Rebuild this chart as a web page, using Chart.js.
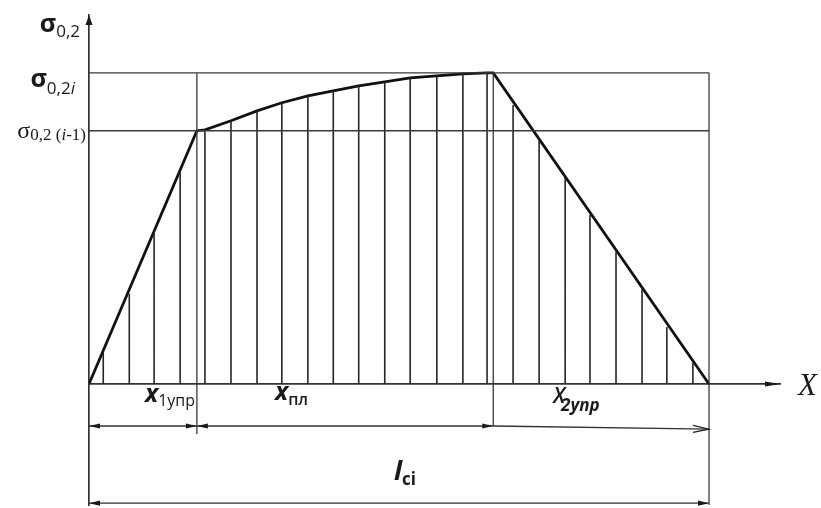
<!DOCTYPE html>
<html>
<head>
<meta charset="utf-8">
<script src="https://cdn.jsdelivr.net/npm/chart.js@4.4.1/dist/chart.umd.min.js"></script>
<style>
  html, body { margin: 0; padding: 0; background: #fff; }
  #wrap { width: 821px; height: 508px; }
</style>
</head>
<body>
<div id="wrap"><canvas id="diagram"></canvas></div>
<script>
// lengths along the specimen (lci = 100), stresses relative to sigma_0.2i
const xElasticEnd = 17.4;
const xPlasticEnd = 65.2;
const lci = 100;
const sigmaPrev = 0.814;
const sigmaI = 1.0;

// axis extents
const xAxisMax = 111.45;
const yAxisMax = 1.186;
const yAxisMin = -0.389;

// dimension line levels (below the X axis)
const dimRow1 = -0.135;
const dimRow1End = -0.145;
const dimRow2 = -0.383;
const extX1Bottom = -0.161;

// stress along the specimen
const curveX = [0, 17.4, 18.7, 22.9, 27.1, 31.1, 35.3, 39.4, 43.5, 47.7, 51.8, 56.1, 60.3, 64.2, 65.2, 100];
const curveY = [0, 0.814, 0.817, 0.846, 0.878, 0.904, 0.926, 0.942, 0.958, 0.971, 0.984, 0.990, 0.997, 1.0, 1.0, 0];

// hatching under the curve
const hatchX = [2.3, 6.5, 10.5, 14.7,
  18.7, 22.9, 27.1, 31.1, 35.3, 39.4, 43.5, 47.7, 51.8, 56.1, 60.3, 64.2,
  68.4, 72.6, 76.8, 80.8, 85.0, 89.2, 93.2, 97.4];
const hatchY = [0.10, 0.29, 0.49, 0.68,
  0.817, 0.846, 0.878, 0.904, 0.926, 0.942, 0.958, 0.971, 0.984, 0.990, 0.997, 1.0,
  0.897, 0.781, 0.662, 0.543, 0.424, 0.305, 0.183, 0.068];

const SANS = '"Open Sans", "Noto Sans", sans-serif';
const SERIF = '"Liberation Serif", "DejaVu Serif", serif';

function segments(list) {
  const pts = [];
  list.forEach(s => {
    pts.push({ x: s[0], y: s[1] }, { x: s[2], y: s[3] }, { x: s[2], y: null });
  });
  return pts;
}

const frameData = segments([
  [0, sigmaI, lci, sigmaI],
  [0, sigmaPrev, lci, sigmaPrev],
  [xElasticEnd, sigmaI, xElasticEnd, extX1Bottom],
  [xPlasticEnd, sigmaI, xPlasticEnd, dimRow1],
  [lci, sigmaI, lci, yAxisMin]
]);

const hatchData = segments(hatchX.map((x, i) => [x, 0, x, hatchY[i]]));
const curveData = curveX.map((x, i) => ({ x: x, y: curveY[i] }));

function dim(x0, y0, x1, y1, arrows) {
  return {
    data: [{ x: x0, y: y0 }, { x: x1, y: y1 }],
    showLine: true, borderColor: '#333', borderWidth: 1.4, pointRadius: 0,
    arrows: arrows
  };
}

function arrowHead(ctx, tx, ty, fx, fy, len, half, filled) {
  const dx = tx - fx, dy = ty - fy;
  const d = Math.hypot(dx, dy) || 1;
  const ux = dx / d, uy = dy / d;
  const bx = tx - ux * len, by = ty - uy * len;
  ctx.beginPath();
  ctx.moveTo(bx - uy * half, by + ux * half);
  ctx.lineTo(tx, ty);
  ctx.lineTo(bx + uy * half, by - ux * half);
  if (filled) {
    ctx.closePath();
    ctx.fill();
  } else {
    ctx.stroke();
  }
}

function textRuns(ctx, x, y, parts, align) {
  let w = 0;
  parts.forEach(p => { ctx.font = p.font; w += ctx.measureText(p.text).width + (p.dx || 0); });
  let cx = align === 'right' ? x - w : x;
  parts.forEach(p => {
    ctx.font = p.font;
    cx += p.dx || 0;
    ctx.fillText(p.text, cx, y + (p.dy || 0));
    cx += ctx.measureText(p.text).width;
  });
}

const annotations = {
  id: 'annotations',
  afterDraw(chart) {
    const ctx = chart.ctx;
    const xs = chart.scales.x, ys = chart.scales.y;
    const area = chart.chartArea;
    ctx.save();
    ctx.fillStyle = '#1a1a1a';
    ctx.strokeStyle = '#222';
    ctx.lineWidth = 1.2;

    // dimension arrows
    chart.data.datasets.forEach((ds, i) => {
      if (!ds.arrows) return;
      const pts = chart.getDatasetMeta(i).data;
      const a = pts[0], b = pts[pts.length - 1];
      if (ds.arrows.start) arrowHead(ctx, a.x, a.y, b.x, b.y, 11, 2.6, true);
      if (ds.arrows.end === 'open') arrowHead(ctx, b.x, b.y, a.x, a.y, 16, 3.5, false);
      else if (ds.arrows.end) arrowHead(ctx, b.x, b.y, a.x, a.y, 11, 2.6, true);
    });

    // axis arrows
    const y0 = ys.getPixelForValue(0);
    arrowHead(ctx, area.left, area.top, area.left, area.top + 20, 10, 3.5, true);
    arrowHead(ctx, area.right, y0, area.right - 20, y0, 15, 2.6, true);

    // stress labels
    const left = area.left;
    const yI = ys.getPixelForValue(sigmaI);
    const yP = ys.getPixelForValue(sigmaPrev);
    ctx.textBaseline = 'alphabetic';
    textRuns(ctx, left - 9, area.top + 17, [
      { text: 'σ', font: 'bold 25px ' + SANS },
      { text: '0,2', font: '17px ' + SANS, dy: 5 }
    ], 'right');
    textRuns(ctx, left - 14, yI + 14, [
      { text: 'σ', font: 'bold 25px ' + SANS },
      { text: '0,2', font: '17px ' + SANS, dy: 7 },
      { text: 'i', font: 'italic 17px ' + SANS, dy: 7 }
    ], 'right');
    textRuns(ctx, left - 3, yP + 7, [
      { text: 'σ', font: '24px ' + SERIF },
      { text: '0,2 (', font: '17px ' + SERIF, dy: 2 },
      { text: 'i', font: 'italic 17px ' + SERIF, dy: 2 },
      { text: '-1)', font: '17px ' + SERIF, dy: 2 }
    ], 'right');

    // length labels
    textRuns(ctx, xs.getPixelForValue(xElasticEnd) - 52, y0 + 18, [
      { text: 'x', font: 'italic bold 25px ' + SANS },
      { text: '1упр', font: '16px ' + SANS, dy: 4 }
    ]);
    textRuns(ctx, xs.getPixelForValue(xElasticEnd) + 78, y0 + 16, [
      { text: 'x', font: 'italic bold 25px ' + SANS },
      { text: 'пл', font: '600 16px ' + SANS, dy: 5 }
    ]);
    textRuns(ctx, xs.getPixelForValue(xPlasticEnd) + 60, y0 + 19, [
      { text: 'X', font: 'italic 600 21px ' + SANS },
      { text: '2упр', font: 'italic bold 17px ' + SANS, dy: 8, dx: -4 }
    ]);
    textRuns(ctx, xs.getPixelForValue(lci / 2) - 5, ys.getPixelForValue(dimRow2) - 23, [
      { text: 'l', font: 'italic bold 27px ' + SANS },
      { text: 'ci', font: 'bold 17px ' + SANS, dy: 5 }
    ]);
    textRuns(ctx, area.right + 18, y0 + 11, [
      { text: 'X', font: 'italic 31px ' + SERIF }
    ]);
    ctx.restore();
  }
};

new Chart(document.getElementById('diagram'), {
  type: 'scatter',
  data: {
    datasets: [
      { data: frameData, showLine: true, borderColor: '#3a3a3a', borderWidth: 1.3, pointRadius: 0, spanGaps: false },
      { data: hatchData, showLine: true, borderColor: '#262626', borderWidth: 1.6, pointRadius: 0, spanGaps: false },
      { data: curveData, showLine: true, borderColor: '#111', borderWidth: 2.8, pointRadius: 0, tension: 0 },
      dim(0, dimRow1, xElasticEnd, dimRow1, { start: true, end: true }),
      dim(xElasticEnd, dimRow1, xPlasticEnd, dimRow1, { start: true, end: true }),
      dim(xPlasticEnd, dimRow1, lci, dimRow1End, { start: false, end: 'open' }),
      dim(0, dimRow2, lci, dimRow2, { start: true, end: true })
    ]
  },
  options: {
    responsive: true,
    maintainAspectRatio: false,
    animation: false,
    layout: { padding: { left: 89, right: 41, top: 15, bottom: 3 } },
    plugins: { legend: { display: false }, tooltip: { enabled: false } },
    scales: {
      x: {
        type: 'linear', min: 0, max: xAxisMax, position: { y: 0 },
        grid: { display: false, drawTicks: false },
        ticks: { display: false },
        border: { display: true, color: '#333', width: 1.7 },
        afterFit(s) { s.height = 0; }
      },
      y: {
        type: 'linear', min: yAxisMin, max: yAxisMax,
        grid: { display: false, drawTicks: false },
        ticks: { display: false },
        border: { display: true, color: '#333', width: 1.7 },
        afterFit(s) { s.width = 0; }
      }
    }
  },
  plugins: [annotations]
});
</script>
</body>
</html>
